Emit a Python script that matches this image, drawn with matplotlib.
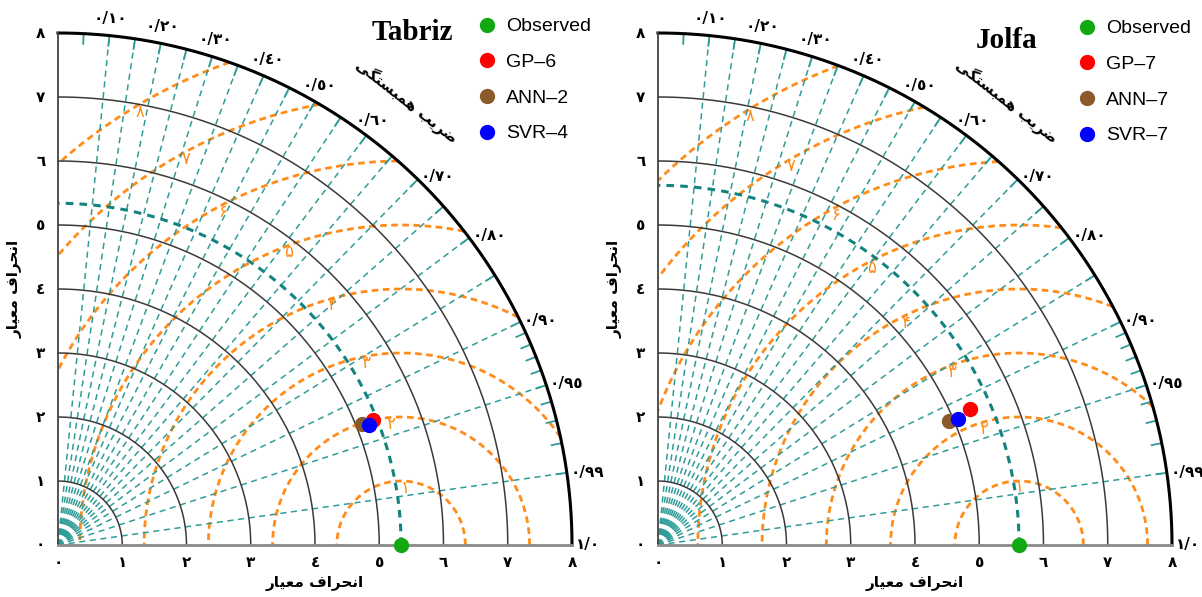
import numpy as np
import matplotlib
matplotlib.use("Agg")
import matplotlib.pyplot as plt

# Taylor diagrams for the two stations

tabriz_obs = 5.34
tabriz_models = ["GP–6", "ANN–2", "SVR–4"]
tabriz_std = [5.27, 5.09, 5.19]
tabriz_corr = [0.929, 0.929, 0.933]

jolfa_obs = 5.62
jolfa_models = ["GP–7", "ANN–7", "SVR–7"]
jolfa_std = [5.30, 4.92, 5.07]
jolfa_corr = [0.916, 0.919, 0.921]

std_ticks = [0, 1, 2, 3, 4, 5, 6, 7, 8]
corr_lines = [0.1, 0.15, 0.2, 0.25, 0.3, 0.35, 0.4, 0.45, 0.5, 0.55, 0.6,
              0.65, 0.7, 0.75, 0.8, 0.85, 0.9, 0.95, 0.99]
corr_minor = [0.05, 0.91, 0.92, 0.93, 0.94, 0.96, 0.97, 0.98]
corr_labels = [0.1, 0.2, 0.3, 0.4, 0.5, 0.6, 0.7, 0.8, 0.9, 0.95, 0.99, 1.0]
rms_levels = [1, 2, 3, 4, 5, 6, 7, 8]

model_colors = ["#ff0000", "#8b5a2b", "#0000ff"]
obs_color = "#12a812"
teal = "#2f9c98"
orange = "#ff8c1a"

# arabic text, written in presentation forms since matplotlib does no shaping
# انحراف معیار
std_label = "\ufead\ufe8e\ufef4\ufecc\ufee3 \ufed1\ufe8d\ufeae\ufea4\ufee7\ufe8d"
# ضریب همبستگی
corr_title = "\ufef0\ufb95\ufe98\ufeb4\ufe92\ufee4\ufeeb \ufe90\ufef3\ufeae\ufebf"

AR = str.maketrans("0123456789", "٠١٢٣٤٥٦٧٨٩")
FA = str.maketrans("0123456789", "۰۱۲۳۴۵۶۷۸۹")

RMAX = 8
W, H = 1202, 597


def taylor(ox, oy, sx, sy, obs, names, stds, corrs, title, title_xy, lab_angles, leg_xy):
    ax = fig.add_axes([(ox - 0.9 * sx) / W, (H - oy - 0.8 * sy) / H,
                       9.3 * sx / W, 9.3 * sy / H])
    ax.set_xlim(-0.9, 8.4)
    ax.set_ylim(-0.8, 8.5)
    ax.axis("off")

    # centred rms difference circles
    for k in rms_levels:
        t_min = np.arccos(min(1, (RMAX**2 - obs**2 - k**2) / (2 * obs * k)))
        t_max = np.arccos(max(-1, -obs / k))
        t = np.linspace(t_min, t_max, 200)
        ax.plot(obs + k * np.cos(t), k * np.sin(t), color=orange, lw=2,
                ls=(0, (2.4, 1.6)), zorder=2)
        a = np.radians(lab_angles[k - 1])
        ax.text(obs + (k - 0.1) * np.cos(a), (k - 0.1) * np.sin(a),
                str(k).translate(FA), color=orange, fontsize=12,
                ha="center", va="center", zorder=3)

    # correlation lines and ticks
    for c in corr_lines:
        a = np.arccos(c)
        ax.plot([0, RMAX * np.cos(a)], [0, RMAX * np.sin(a)], color=teal,
                lw=1.1, ls=(0, (4, 3)), zorder=2)
    for c in corr_lines + corr_minor:
        a = np.arccos(c)
        ax.plot([7.84 * np.cos(a), RMAX * np.cos(a)],
                [7.84 * np.sin(a), RMAX * np.sin(a)], color=teal, lw=1.3, zorder=2)
    for c in corr_labels:
        a = np.arccos(c)
        txt = ("%.2f" % c).replace(".", "/") if c < 1 else "1/0"
        txt = txt.translate(AR)
        if np.degrees(a) > 48:
            ax.text(8.15 * np.cos(a), 8.15 * np.sin(a), txt, fontsize=11,
                    fontweight="bold", ha="center", va="bottom")
        else:
            ax.text(8.06 * np.cos(a), 8.06 * np.sin(a), txt, fontsize=11,
                    fontweight="bold", ha="left", va="center")

    # standard deviation arcs
    t = np.linspace(0, np.pi / 2, 300)
    for r in std_ticks[1:-1]:
        ax.plot(r * np.cos(t), r * np.sin(t), color="#3a3a3a", lw=1.1, zorder=3)
    ax.plot(RMAX * np.cos(t), RMAX * np.sin(t), color="black", lw=2.2, zorder=4)
    ax.plot(obs * np.cos(t), obs * np.sin(t), color="#13837f", lw=2.2,
            ls=(0, (2.5, 2)), zorder=3)

    ax.plot([0, 0], [0, RMAX], color="#444444", lw=1.3, zorder=4)
    ax.plot([0, RMAX], [0, 0], color="#8a8a8a", lw=2, zorder=4)

    for v in std_ticks:
        ax.text(v, -0.28, str(v).translate(AR), fontsize=11, fontweight="bold",
                ha="center", va="center")
        ax.text(-0.27, v, str(v).translate(AR), fontsize=11, fontweight="bold",
                ha="center", va="center")

    ax.text(4, -0.6, std_label, fontsize=11, fontweight="bold",
            ha="center", va="center")
    ax.text(-0.67, 4, std_label, fontsize=11, fontweight="bold",
            ha="center", va="center", rotation=90)
    ax.text(8.8 * np.cos(np.radians(52)), 8.8 * np.sin(np.radians(52)),
            corr_title, fontsize=11, fontweight="bold", ha="center",
            va="center", rotation=-38)

    ax.text(title_xy[0], title_xy[1], title, family="Liberation Serif",
            fontweight="bold", fontsize=21, ha="center", va="center")

    # observed and model points
    handles = []
    h, = ax.plot(obs, 0, "o", color=obs_color, ms=10, clip_on=False, zorder=6,
                 label="Observed")
    handles.append(h)
    for n, s, c, col in zip(names, stds, corrs, model_colors):
        a = np.arccos(c)
        h, = ax.plot(s * np.cos(a), s * np.sin(a), "o", color=col, ms=10,
                     zorder=6, label=n)
        handles.append(h)
    fig.legend(handles=handles, loc="upper left",
               bbox_to_anchor=(leg_xy[0] / W, 1 - leg_xy[1] / H),
               frameon=False, borderpad=0, handlelength=0.8,
               handletextpad=0.6, labelspacing=0.93,
               prop={"family": "Liberation Sans", "size": 14})
    return ax


fig = plt.figure(figsize=(W / 100, H / 100), dpi=100)

taylor(58, 545, 64.25, 64.0, tabriz_obs, tabriz_models, tabriz_std, tabriz_corr,
       "Tabriz", (5.51, 8.0), [86, 95, 101, 106, 111, 118, 119, 121], (469, 8))
taylor(658, 545, 64.25, 64.0, jolfa_obs, jolfa_models, jolfa_std, jolfa_corr,
       "Jolfa", (5.42, 7.89), [90, 107, 111, 117, 118, 119, 121, 122], (1069, 10))

fig.savefig("out.png", dpi=100)
